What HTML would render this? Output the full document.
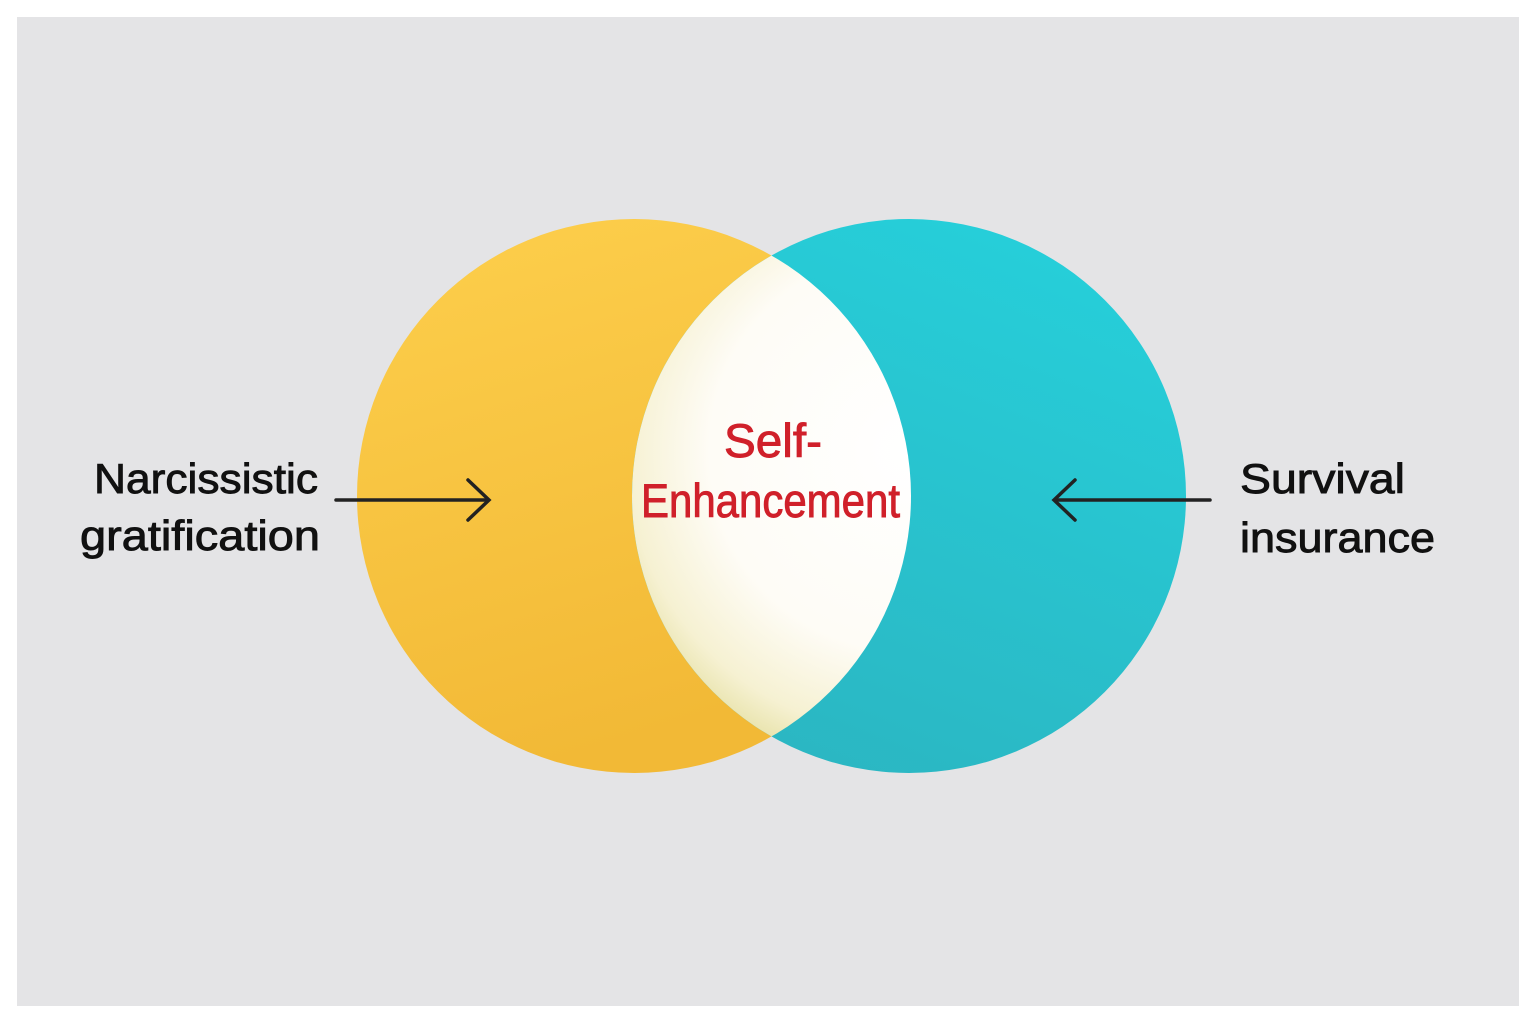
<!DOCTYPE html>
<html><head><meta charset="utf-8"><style>html,body{margin:0;padding:0;background:#fff}</style></head>
<body>
<svg width="1536" height="1024" xmlns="http://www.w3.org/2000/svg">
<defs>
<linearGradient id="y" x1="0" y1="0" x2="0.3" y2="1"><stop offset="0" stop-color="#fdcf4c"/><stop offset="1" stop-color="#f2b936"/></linearGradient>
<linearGradient id="t" x1="0.7" y1="0" x2="0.3" y2="1"><stop offset="0" stop-color="#26cfda"/><stop offset="1" stop-color="#2bb6c2"/></linearGradient>
<radialGradient id="w" cx="0.5" cy="0.42" r="0.6"><stop offset="0" stop-color="#ffffff"/><stop offset="0.6" stop-color="#fefcf6"/><stop offset="0.85" stop-color="#f6f1d2"/><stop offset="1" stop-color="#e4dfa0"/></radialGradient>
<clipPath id="c"><circle cx="634" cy="496" r="277"/></clipPath>
</defs>
<rect x="17" y="17" width="1502" height="989" fill="#e4e4e6"/>
<circle cx="634" cy="496" r="277" fill="url(#y)"/>
<circle cx="909" cy="496" r="277" fill="url(#t)"/>
<circle cx="909" cy="496" r="277" fill="url(#w)" clip-path="url(#c)"/>
<g font-family="Liberation Sans, sans-serif" font-size="42" fill="#111" stroke="#111" stroke-width="0.9">
<text x="318" y="493" text-anchor="end" textLength="224" lengthAdjust="spacingAndGlyphs">Narcissistic</text>
<text x="320" y="550" text-anchor="end" textLength="240" lengthAdjust="spacingAndGlyphs">gratification</text>
<text x="1240" y="493" textLength="165" lengthAdjust="spacingAndGlyphs">Survival</text>
<text x="1240" y="552" textLength="195" lengthAdjust="spacingAndGlyphs">insurance</text>
</g>
<g font-family="Liberation Sans, sans-serif" font-size="47" fill="#d0202a" stroke="#d0202a" stroke-width="0.9">
<text x="724" y="457" textLength="98" lengthAdjust="spacingAndGlyphs">Self-</text>
<text x="641" y="517" textLength="259" lengthAdjust="spacingAndGlyphs">Enhancement</text>
</g>
<g stroke="#222" stroke-width="3.5" fill="none" stroke-linecap="round">
<line x1="336" y1="500" x2="488" y2="500"/><polyline points="468,480 489,500 468,520"/>
<line x1="1210" y1="500" x2="1055" y2="500"/><polyline points="1075,480 1054,500 1075,520"/>
</g>
</svg>
</body></html>
